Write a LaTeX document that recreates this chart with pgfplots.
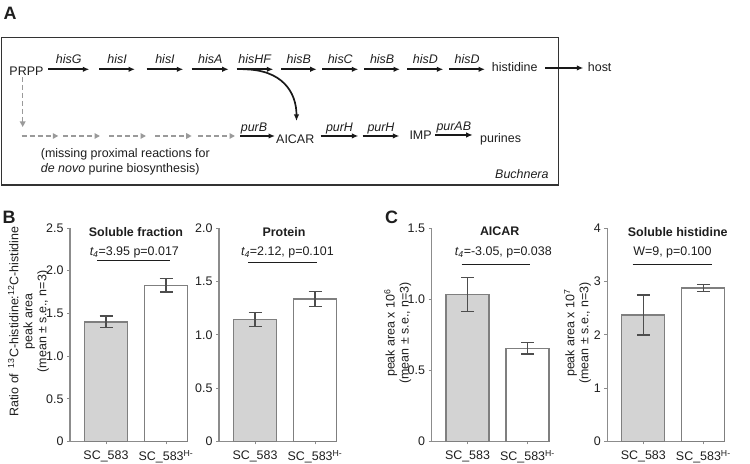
\documentclass[border=0pt]{standalone}
\usepackage{fontspec}
\setmainfont{Liberation Sans}
\usepackage{pgfplots}
\pgfplotsset{compat=1.18}
\usetikzlibrary{arrows.meta}
\definecolor{axcol}{HTML}{8C8C8C}
\definecolor{barfill}{HTML}{D3D3D3}
\definecolor{baredge}{HTML}{7F7F7F}
\definecolor{errcol}{HTML}{4D4D4D}
\definecolor{txt}{HTML}{1E1E1E}
\definecolor{dashcol}{HTML}{9A9A9A}
\newcommand\fs{\fontsize{12.5}{14}\selectfont}
\newcommand\fsb{\fontsize{18}{20}\selectfont\bfseries}

\pgfplotsset{
  panel/.style={
    scale only axis, width=117.6bp, height=213.5bp, anchor=south west,
    axis x line*=bottom, axis y line*=left,
    xmin=-0.6, xmax=1.36, ymin=0,
    xtick={0,1}, xticklabels={SC\_583,SC\_583\textsuperscript{H-}},
    tick align=outside,
    xtick style={draw=axcol, line width=0.9bp},
    ytick style={draw=axcol, line width=0.9bp},
    major tick length=3bp,
    axis line style={draw=axcol, line width=1.1bp},
    tick label style={font=\fs, text=txt},
    xticklabel style={yshift=-2.5bp},
    clip=false,
    ybar, bar width=43bp, bar shift=0pt,
  },
  graybar/.style={fill=barfill, draw=baredge, line width=1.3bp,
    error bars/.cd, y dir=both, y explicit,
    error bar style={draw=errcol, line width=1.1bp},
    error mark options={rotate=90, draw=errcol, line width=1.1bp, mark size=6.5bp}},
  whitebar/.style={fill=white, draw=baredge, line width=1.3bp,
    error bars/.cd, y dir=both, y explicit,
    error bar style={draw=errcol, line width=1.1bp},
    error mark options={rotate=90, draw=errcol, line width=1.1bp, mark size=6.5bp}},
}
\tikzset{
  garrow/.style={-{Latex[length=6.5bp,width=5.5bp]}, line width=1.7bp, black!90},
  darrow/.style={-{Triangle[length=5.5bp,width=5.5bp]}, dash pattern=on 5bp off 3bp, line width=1.5bp, dashcol},
}

\begin{document}
\begin{tikzpicture}[x=1bp,y=1bp, every node/.style={font=\fs, text=txt}]
\useasboundingbox (0,0) rectangle (750,464);

% ---------------- Panel A ----------------
\node[anchor=center, font=\fsb] at (10,451) {A};
\draw[line width=1.1bp, black!80] (1.5,279) rectangle (558.3,426.3);

\node[anchor=base west, inner sep=0] at (9.3,388) {PRPP};
\foreach \a/\b/\l in {48.3/89.3/hisG, 99.3/135/hisI, 146.7/183.3/hisI, 191.7/228.7/hisA,
  236.7/273.3/hisHF, 281/316.7/hisB, 322.3/358.3/hisC, 364.3/400/hisB, 407.3/443.3/hisD, 449.3/485/hisD}
{
  \draw[garrow] (\a,394.7) -- (\b,394.7);
  \node[anchor=base, inner sep=0] at ({(\a+\b)/2},400) {\textit{\l}};
}
\node[anchor=base west, inner sep=0] at (491.7,392.3) {histidine};
\draw[garrow] (545,396) -- (583.3,396);
\node[anchor=base west, inner sep=0] at (587.7,392.3) {host};

% curved arrow hisHF -> AICAR
\draw[garrow] (243,394.7) .. controls (282,394.7) and (296.5,372) .. (296.5,343);

% dashed missing reactions
\draw[darrow] (22.7,387) -- (22.7,337);
\foreach \a/\b in {21.7/58.3, 63.3/100, 109.3/146, 155/191.7, 198.3/235}
  \draw[darrow] (\a,328) -- (\b,328);

\draw[garrow] (240,328) -- (275,328);
\node[anchor=base, inner sep=0] at (254,332.3) {\textit{purB}};
\node[anchor=base west, inner sep=0] at (276,320) {AICAR};
\draw[garrow] (320.7,328) -- (358.3,328);
\node[anchor=base, inner sep=0] at (339.5,332.8) {\textit{purH}};
\draw[garrow] (362.7,328) -- (399.3,328);
\node[anchor=base, inner sep=0] at (381,332.8) {\textit{purH}};
\node[anchor=base west, inner sep=0] at (409.3,324) {IMP};
\draw[garrow] (435,329) -- (472.7,329);
\node[anchor=base, inner sep=0] at (453.8,333.5) {\textit{purAB}};
\node[anchor=base west, inner sep=0] at (480,321.3) {purines};

\node[anchor=base west, inner sep=0] at (40.7,306) {(missing proximal reactions for};
\node[anchor=base west, inner sep=0] at (40.7,291) {\textit{de novo} purine biosynthesis)};
\node[anchor=base west, inner sep=0] at (495,285.7) {\textit{Buchnera}};

% ---------------- Panel B ----------------
\node[anchor=center, font=\fsb] at (9,247) {B};
\node[rotate=90, align=center, inner sep=0] at (28.5,142.5)
  {Ratio of \,\textsuperscript{13}C-histidine:\textsuperscript{12}C-histidine\\peak area\\(mean ± s.e., n=3)};

\begin{axis}[panel, at={(70bp,22.5bp)}, ymax=2.5,
  ytick={0,0.5,1,1.5,2,2.5}, yticklabels={0,0.5,1.0,1.5,2.0,2.5}]
  \addplot[graybar] coordinates {(0,1.40) +- (0,0.07)};
  \addplot[whitebar] coordinates {(1,1.83) +- (0,0.08)};
  \node[font=\fs\bfseries] at (rel axis cs:0.561,0.983) {Soluble fraction};
  \node at (rel axis cs:0.547,0.884) {\textit{t\textsubscript{4}}=3.95 p=0.017};
  \draw[line width=1bp, txt] (rel axis cs:0.232,0.847) -- (rel axis cs:0.850,0.847);
\end{axis}

\begin{axis}[panel, at={(219bp,22.5bp)}, ymax=2.0,
  ytick={0,0.5,1,1.5,2}, yticklabels={0,0.5,1.0,1.5,2.0}]
  \addplot[graybar] coordinates {(0,1.14) +- (0,0.065)};
  \addplot[whitebar] coordinates {(1,1.335) +- (0,0.07)};
  \node[font=\fs\bfseries] at (rel axis cs:0.553,0.983) {Protein};
  \node at (rel axis cs:0.582,0.884) {\textit{t\textsubscript{4}}=2.12, p=0.101};
  \draw[line width=1bp, txt] (rel axis cs:0.249,0.837) -- (rel axis cs:0.836,0.837);
\end{axis}

% ---------------- Panel C ----------------
\node[anchor=center, font=\fsb] at (391.5,247) {C};
\node[rotate=90, align=center, inner sep=0] at (397.7,131)
  {peak area x 10\textsuperscript{6}\\(mean ± s.e., n=3)};
\begin{axis}[panel, at={(431.5bp,22.5bp)}, ymax=1.5,
  ytick={0,0.5,1,1.5}, yticklabels={0,0.5,1.0,1.5}]
  \addplot[graybar] coordinates {(0,1.035) +- (0,0.12)};
  \addplot[whitebar] coordinates {(1,0.655) +- (0,0.04)};
  \node[font=\fs\bfseries] at (rel axis cs:0.580,0.983) {AICAR};
  \node at (rel axis cs:0.611,0.884) {\textit{t\textsubscript{4}}=-3.05, p=0.038};
  \draw[line width=1bp, txt] (rel axis cs:0.257,0.827) -- (rel axis cs:0.838,0.827);
\end{axis}

\node[rotate=90, align=center, inner sep=0] at (577.5,131)
  {peak area x 10\textsuperscript{7}\\(mean ± s.e., n=3)};
\begin{axis}[panel, at={(607.3bp,22.5bp)}, ymax=4,
  ytick={0,1,2,3,4}, yticklabels={0,1,2,3,4}]
  \addplot[graybar] coordinates {(0,2.37) +- (0,0.375)};
  \addplot[whitebar] coordinates {(1,2.875) +- (0,0.065)};
  \node[font=\fs\bfseries] at (rel axis cs:0.599,0.983) {Soluble histidine};
  \node at (rel axis cs:0.554,0.884) {W=9, p=0.100};
  \draw[line width=1bp, txt] (rel axis cs:0.216,0.827) -- (rel axis cs:0.888,0.827);
\end{axis}
\end{tikzpicture}
\end{document}
